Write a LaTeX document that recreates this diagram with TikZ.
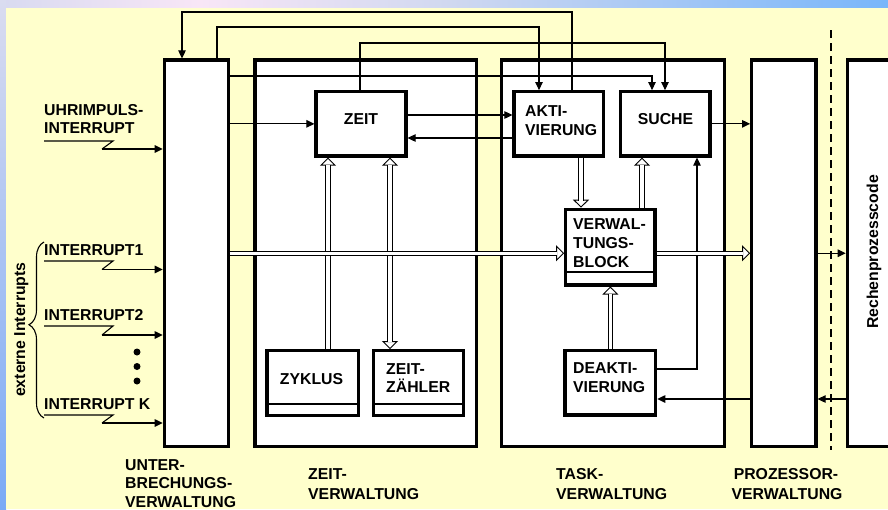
\documentclass[tikz,border=0pt]{standalone}
\usepackage{fontspec}
\setmainfont{Liberation Sans}
\usetikzlibrary{arrows.meta,calc,decorations.pathreplacing}
\definecolor{bgyellow}{RGB}{255,255,204}
\definecolor{gA}{RGB}{216,218,240}
\definecolor{gB}{RGB}{248,230,246}
\definecolor{gC}{RGB}{208,216,240}
\definecolor{gD}{RGB}{120,182,250}
\definecolor{lA}{RGB}{218,220,240}
\definecolor{lB}{RGB}{122,170,245}
\newcommand\DblArr[2]{%
  \draw[ohead] ($(#2)!12pt!(#1)$) -- (#2);
  \draw[dblline] (#1) -- ($(#2)!7pt!(#1)$);}
\newcommand\DblArrBoth[2]{%
  \draw[ohead] ($(#2)!12pt!(#1)$) -- (#2);
  \draw[ohead] ($(#1)!12pt!(#2)$) -- (#1);
  \draw[dblline] ($(#1)!7pt!(#2)$) -- ($(#2)!7pt!(#1)$);}
\newcommand\LinesTwo[3]{\vtop{\baselineskip=#1\lineskiplimit=-30pt\hbox{#2}\hbox{#3}}}
\newcommand\LinesThree[4]{\vtop{\baselineskip=#1\lineskiplimit=-30pt\hbox{#2}\hbox{#3}\hbox{#4}}}
\tikzset{
  box/.style={draw=black, fill=white, line width=3.2pt, rectangle, inner sep=0pt},
  lbl/.style={font=\fontsize{15.8pt}{19pt}\selectfont\bfseries, inner sep=0pt, anchor=base west},
  clbl/.style={font=\fontsize{15.8pt}{19pt}\selectfont\bfseries, inner sep=0pt, anchor=base},
  arr/.style={draw=black, line width=1.1pt, -{Triangle[width=7.5pt,length=8pt]}},
  conn/.style={draw=black, line width=1.1pt},
  dblline/.style={draw=black, line width=0.9pt, double=white, double distance=3.3pt},
  ohead/.style={draw=white, line width=0.9pt, -{Triangle[width=16pt,length=8pt,color=black,fill=white]}},
  strip/.style={draw=black, line width=2.4pt},
}
\begin{document}
\begin{tikzpicture}[x=1pt,y=-1pt]
\clip (0,0) rectangle (888,509);
% background
\shade[left color=gA, right color=gB] (0,0) rectangle (200,8);
\shade[left color=gB, right color=gC] (199.5,0) rectangle (450,8);
\shade[left color=gC, right color=gD] (449.5,0) rectangle (888,8);
\shade[top color=lA, bottom color=lB] (0,0) rectangle (6,509);
\fill[bgyellow] (6,8) rectangle (888,509);

% dashed separator
\draw[line width=1.1pt, dash pattern=on 8pt off 5pt] (831,30) -- (831,450);

% big boxes
\node[box, minimum width=64pt, minimum height=386.5pt] (unter) at (196.3,253.25) {};
\node[box, minimum width=221.7pt, minimum height=386.5pt] (zeitv) at (365.85,253.25) {};
\node[box, minimum width=223pt, minimum height=386.5pt] (taskv) at (612.8,253.25) {};
\node[box, minimum width=64.3pt, minimum height=386.5pt] (proz) at (783.85,253.25) {};
\node[box, minimum width=92.7pt, minimum height=386.5pt] (rechen) at (893.65,253.25) {};

% inner boxes
\node[box, minimum width=90pt, minimum height=64.3pt] (zeit) at (361,123.85) {};
\node[box, minimum width=89.3pt, minimum height=64.3pt] (akti) at (558.65,123.85) {};
\node[box, minimum width=89.3pt, minimum height=64.3pt] (suche) at (665.35,123.85) {};
\node[box, minimum width=89.3pt, minimum height=75.7pt] (vb) at (610.35,247.15) {};
\node[box, minimum width=90.7pt, minimum height=64.3pt] (deakt) at (610.35,382.85) {};
\node[box, minimum width=91.3pt, minimum height=65pt] (zyklus) at (312.65,383.2) {};
\node[box, minimum width=89.6pt, minimum height=65pt] (zz) at (418.5,383.2) {};
\draw[strip] ([yshift=14.6pt]vb.south west) -- ([yshift=14.6pt]vb.south east);
\draw[strip] ([yshift=13.6pt]zyklus.south west) -- ([yshift=13.6pt]zyklus.south east);
\draw[strip] ([yshift=13.6pt]zz.south west) -- ([yshift=13.6pt]zz.south east);

% thin connectors
\draw[arr] ([xshift=13.35pt]akti.north) -- ++(0,-78.1) -| ([xshift=-14.3pt]unter.north);
\draw[arr] ([xshift=20.7pt]unter.north) -- ++(0,-31.4) -| ([xshift=-19.65pt]akti.north);
\draw[arr] ([xshift=-1pt]zeit.north) -- ++(0,-47.1) -| ([xshift=-0.35pt]suche.north);
\draw[arr] ([yshift=-17.6pt]unter.north east) -| ([xshift=-13.35pt]suche.north);
\draw[arr] (unter.east |- zeit.west) -- (zeit.west);
\draw[arr] ([yshift=8.85pt]zeit.east) -- ([yshift=8.85pt]akti.west);
\draw[arr] ([yshift=-14.15pt]akti.west) -- ([yshift=-14.15pt]zeit.east);
\draw[arr] (suche.east) -- (suche.east -| proz.west);
\draw[arr] ([yshift=13.85pt]deakt.east) -| ([xshift=31.65pt]suche.south);
\coordinate (dk) at ([yshift=-16.15pt]deakt.east);
\draw[arr] (proz.west |- dk) -- (dk);
\draw[arr] (rechen.west |- dk) -- (proz.east |- dk);
\draw[arr] (proz.east) -- (rechen.west);

% interrupt signals
\coordinate (u0) at (102,149);
\draw[conn] (44,141) -- (113,141) -- (u0);
\draw[arr] (u0) -- (u0 -| unter.west);
\coordinate (u1) at (102,269.5);
\draw[conn] (44,261) -- (113,261) -- (u1);
\draw[arr] (u1) -- (u1 -| unter.west);
\coordinate (u2) at (102,335);
\draw[conn] (44,326) -- (113,326) -- (u2);
\draw[arr] (u2) -- (u2 -| unter.west);
\coordinate (uk) at (102,423);
\draw[conn] (44,415) -- (113,415) -- (uk);
\draw[arr] (uk) -- (uk -| unter.west);

% dots and brace
\fill (137,352) circle (3.5pt) (137,366.5) circle (3.5pt) (137,381) circle (3.5pt);
\draw[line width=1.1pt, decorate, decoration={brace, amplitude=15pt, aspect=0.53}] (44,418) -- (44,242);

% double arrows
\coordinate (dAs) at (unter.east);
\coordinate (dAe) at (vb.west |- unter.east);
\coordinate (dBs) at (vb.east |- proz.west);
\coordinate (dBe) at (proz.west);
\coordinate (dCs) at ([xshift=22.35pt]akti.south);
\coordinate (dCe) at (dCs |- vb.north);
\coordinate (dDe) at ([xshift=-23.35pt]suche.south);
\coordinate (dDs) at (dDe |- vb.north);
\coordinate (dEs) at (deakt.north);
\coordinate (dEe) at (deakt.north |- vb.south);
\coordinate (dFs) at ([xshift=15.35pt]zyklus.north);
\coordinate (dFe) at (dFs |- zeit.south);
\coordinate (dGs) at ([xshift=-28.5pt]zz.north);
\coordinate (dGe) at (dGs |- zeit.south);
\DblArr{dFs}{dFe}
\DblArrBoth{dGs}{dGe}
\DblArr{dCs}{dCe}
\DblArr{dDs}{dDe}
\DblArr{dEs}{dEe}
\DblArr{dAs}{dAe}
\DblArr{dBs}{dBe}

% labels
\node[lbl] (luhr) at (44,115.5) {\LinesTwo{18pt}{UHRIMPULS-}{INTERRUPT}};
\node[lbl] (lint1) at (44,255) {INTERRUPT1};
\node[lbl] (lint2) at (44,320.5) {INTERRUPT2};
\node[lbl] (lintk) at (44,409) {INTERRUPT K};
\node[clbl] (tzeit) at (361,124) {ZEIT};
\node[lbl] (takti) at (525,116) {\LinesTwo{19pt}{AKTI-}{VIERUNG}};
\node[clbl] (tsuche) at (665.5,124) {SUCHE};
\node[lbl] (tvb) at (573,229) {\LinesThree{19pt}{VERWAL-}{TUNGS-}{BLOCK}};
\node[lbl] (tdeakt) at (573,373) {\LinesTwo{19pt}{DEAKTI-}{VIERUNG}};
\node[clbl] (tzyk) at (311.5,384) {ZYKLUS};
\node[lbl] (tzz) at (386,374) {\LinesTwo{18pt}{ZEIT-}{ZÄHLER}};
\node[lbl] (bunter) at (125,470) {\LinesThree{18.5pt}{UNTER-}{BRECHUNGS-}{VERWALTUNG}};
\node[lbl] (bzeit) at (308,479) {\LinesTwo{20pt}{ZEIT-}{VERWALTUNG}};
\node[lbl] (btask) at (556,479) {\LinesTwo{20pt}{TASK-}{VERWALTUNG}};
\node[clbl] (bproz1) at (786,479) {PROZESSOR-};
\node[clbl] (bproz2) at (787,499) {VERWALTUNG};
\node[lbl, rotate=90] (rext) at (25,397) {externe Interrupts};
\node[lbl, rotate=90] (rrech) at (878,329) {Rechenprozesscode};
\end{tikzpicture}
\end{document}
